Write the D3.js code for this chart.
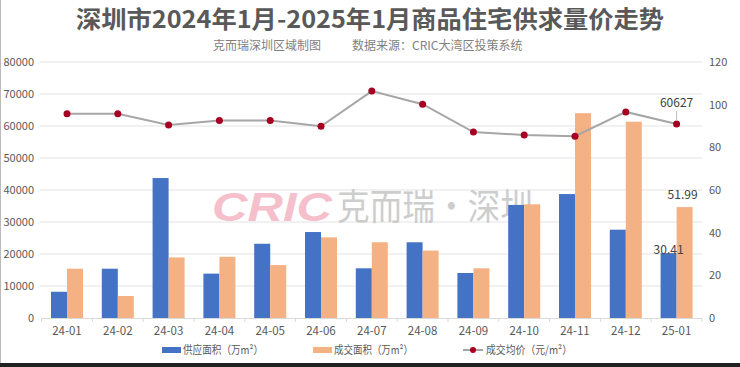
<!DOCTYPE html>
<html><head><meta charset="utf-8">
<script src="https://cdn.jsdelivr.net/npm/d3@7"></script>
<style>
html,body{margin:0;padding:0;background:#fff;}
svg{display:block;font-family:"Noto Sans CJK SC","Noto Sans",sans-serif;}
</style></head>
<body>
<svg id="chart" width="740" height="367"></svg>
<script>
const months = ["24-01","24-02","24-03","24-04","24-05","24-06","24-07","24-08","24-09","24-10","24-11","24-12","25-01"];
const supplyArea = [12.3,23.1,65.6,20.8,34.8,40.3,23.3,35.5,21.1,53.0,58.1,41.4,30.41];
const dealArea = [23.1,10.3,28.4,28.7,24.8,37.8,35.5,31.6,23.3,53.3,96.0,92.0,51.99];
const avgPrice = [63850,63850,60300,61700,61700,59900,70900,66800,58100,57200,56800,64400,60627];
const leftTicks = [0,10000,20000,30000,40000,50000,60000,70000,80000];
const rightTicks = [0,20,40,60,80,100,120];
const seriesNames = ["供应面积（万m²）","成交面积（万m²）","成交均价（元/m²）"];
const colors = {supply:"#4472C4", deal:"#F4B183", line:"#A6A6A6", dot:"#A50021"};

const svg = d3.select("#chart");
const W = 740, H = 367;
const m = {left:41.6, right:702, top:62, bottom:318};

// frame
svg.append("line").attr("x1",0.5).attr("x2",0.5).attr("y1",0).attr("y2",H).attr("stroke","#bbb").attr("stroke-width",1);
svg.append("rect").attr("x",0).attr("y",363).attr("width",W).attr("height",4).attr("fill","#222");

// title
svg.append("text").attr("x",370).attr("y",28).attr("text-anchor","middle")
  .attr("font-size",24).attr("font-weight",700).attr("fill","#595959")
  .attr("textLength",588).attr("lengthAdjust","spacingAndGlyphs")
  .text("深圳市2024年1月-2025年1月商品住宅供求量价走势");
svg.append("text").attr("x",213).attr("y",50).attr("font-size",12).attr("fill","#7f7f7f").text("克而瑞深圳区域制图");
svg.append("text").attr("x",352).attr("y",50).attr("font-size",12).attr("fill","#7f7f7f").text("数据来源：CRIC大湾区投策系统");

const x = d3.scaleBand().domain(months).range([m.left,m.right]).padding(0);
const yL = d3.scaleLinear().domain([0,80000]).range([m.bottom,m.top]);
const yR = d3.scaleLinear().domain([0,120]).range([m.bottom,m.top]);

// grid
svg.append("g").selectAll("line").data(leftTicks.slice(1)).join("line")
  .attr("x1",40).attr("x2",m.right).attr("y1",d=>yL(d)).attr("y2",d=>yL(d))
  .attr("stroke","#e3e3e3").attr("stroke-width",1);

// watermark
const wm = svg.append("g").attr("opacity",0.75);
wm.append("text").attr("x",212).attr("y",221).attr("font-size",40).attr("font-weight",900)
  .attr("font-style","italic").attr("fill","#F2AABB")
  .attr("font-family","'Liberation Sans',Arial,sans-serif")
  .attr("textLength",120).attr("lengthAdjust","spacingAndGlyphs").text("CRIC");
wm.append("text").attr("x",337).attr("y",220).attr("font-size",36).attr("fill","#BDBDBD")
  .attr("textLength",196).attr("lengthAdjust","spacingAndGlyphs").text("克而瑞·深圳");

// left axis
const axL = d3.axisLeft(yL).tickValues(leftTicks).tickSize(0).tickPadding(6).tickFormat(d3.format("d"));
const gL = svg.append("g").attr("transform",`translate(${40},0)`).call(axL);
gL.select(".domain").remove();
gL.selectAll("text").attr("font-size",11).attr("fill","#595959").attr("font-family","'Noto Sans CJK SC',sans-serif");

// right axis
const axR = d3.axisRight(yR).tickValues(rightTicks).tickSize(0).tickPadding(7);
const gR = svg.append("g").attr("transform",`translate(${m.right},0)`).call(axR);
gR.select(".domain").remove();
gR.selectAll("text").attr("font-size",11).attr("fill","#595959").attr("font-family","'Noto Sans CJK SC',sans-serif");

// bars
const bw = 16;
const cx = d => x(d) + x.bandwidth()/2;
svg.append("g").selectAll("rect").data(months).join("rect")
  .attr("x",(d)=>cx(d)-bw).attr("width",bw)
  .attr("y",(d,i)=>yR(supplyArea[i])).attr("height",(d,i)=>yR(0)-yR(supplyArea[i]))
  .attr("fill",colors.supply);
svg.append("g").selectAll("rect").data(months).join("rect")
  .attr("x",(d)=>cx(d)).attr("width",bw)
  .attr("y",(d,i)=>yR(dealArea[i])).attr("height",(d,i)=>yR(0)-yR(dealArea[i]))
  .attr("fill",colors.deal);

// x axis
const axB = d3.axisBottom(x).tickSize(0).tickPadding(9);
const gB = svg.append("g").attr("transform",`translate(0,${m.bottom})`).call(axB);
gB.select(".domain").attr("stroke","#d9d9d9");
gB.selectAll("text").attr("font-size",11.5).attr("fill","#595959").attr("font-family","'Noto Sans CJK SC',sans-serif");
svg.append("g").selectAll("line").data(months.concat(["end"])).join("line")
  .attr("x1",(d,i)=>m.left + i*x.bandwidth()).attr("x2",(d,i)=>m.left + i*x.bandwidth())
  .attr("y1",m.bottom).attr("y2",m.bottom+4).attr("stroke","#d9d9d9");

// price line
const line = d3.line().x((d,i)=>cx(months[i])).y(d=>yL(d));
svg.append("path").datum(avgPrice).attr("d",line).attr("fill","none")
  .attr("stroke",colors.line).attr("stroke-width",2);
svg.append("g").selectAll("circle").data(avgPrice).join("circle")
  .attr("cx",(d,i)=>cx(months[i])).attr("cy",d=>yL(d)).attr("r",3.5).attr("fill",colors.dot);

// data labels
const last = months.length-1;
const lx = cx(months[last]);
svg.append("line").attr("x1",lx).attr("x2",lx).attr("y1",yL(avgPrice[last])-3).attr("y2",yL(avgPrice[last])-13)
  .attr("stroke","#bfbfbf").attr("stroke-width",1);
svg.append("text").attr("x",lx).attr("y",yL(avgPrice[last])-17).attr("text-anchor","middle")
  .attr("font-size",12).attr("fill","#404040").text(d3.format("d")(avgPrice[last]));
svg.append("text").attr("x",lx+6).attr("y",yR(dealArea[last])-8).attr("text-anchor","middle")
  .attr("font-size",12).attr("fill","#404040").text(dealArea[last].toFixed(2));
svg.append("text").attr("x",lx-8).attr("y",yR(supplyArea[last])+1).attr("text-anchor","middle")
  .attr("font-size",12).attr("fill","#404040").text(supplyArea[last].toFixed(2));

// legend
const lg = svg.append("g").attr("font-size",11).attr("fill","#595959");
lg.append("rect").attr("x",162).attr("y",347).attr("width",19).attr("height",6).attr("fill",colors.supply);
lg.append("text").attr("x",183).attr("y",354).attr("textLength",80).attr("lengthAdjust","spacingAndGlyphs").text(seriesNames[0]);
lg.append("rect").attr("x",313).attr("y",347).attr("width",19).attr("height",6).attr("fill",colors.deal);
lg.append("text").attr("x",334).attr("y",354).attr("textLength",79).attr("lengthAdjust","spacingAndGlyphs").text(seriesNames[1]);
lg.append("line").attr("x1",463).attr("x2",483).attr("y1",350).attr("y2",350).attr("stroke",colors.line).attr("stroke-width",2);
lg.append("circle").attr("cx",473).attr("cy",350).attr("r",3).attr("fill",colors.dot);
lg.append("text").attr("x",486).attr("y",354).attr("textLength",86).attr("lengthAdjust","spacingAndGlyphs").text(seriesNames[2]);
</script>
</body></html>
